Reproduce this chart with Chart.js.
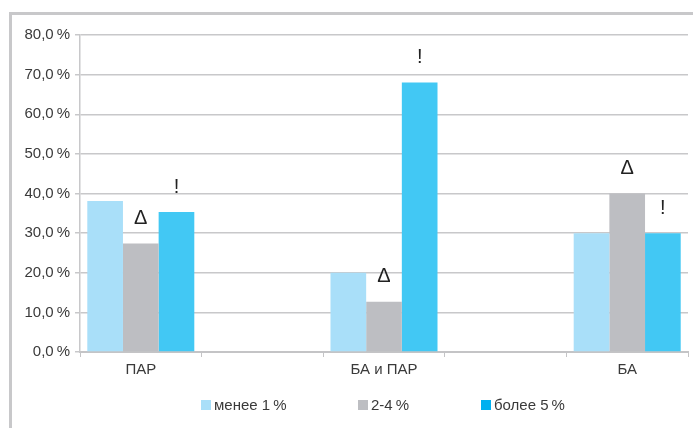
<!DOCTYPE html>
<html lang="ru">
<head>
<meta charset="UTF-8" />
<title>Доля групп</title>
<script src="https://cdn.jsdelivr.net/npm/chart.js"></script>
<style>
  html, body { margin: 0; padding: 0; background: #fff; overflow: hidden; }
  #wrap { position: relative; width: 693px; height: 428px; }
  #frame {
    position: absolute; left: 9px; top: 12px; width: 800px; height: 600px;
    border-top: 3px solid #c8c8ca; border-left: 3px solid #c8c8ca;
  }
  #chart { position: absolute; left: 0; top: 0; }
  #legend {
    position: absolute; top: 396px; left: 0; width: 693px;
    font-family: "Liberation Sans", Arial, sans-serif; font-size: 15px; color: #3a3a3a;
  }
  .item { position: absolute; white-space: nowrap; line-height: 18px; }
  .sw { display: inline-block; width: 10px; height: 10px; margin-right: 3px; }
</style>
</head>
<body>
<div id="wrap">
  <div id="frame"></div>
  <canvas id="chart" width="693" height="428"></canvas>
  <div id="legend"></div>
</div>

<script>
  // empty slots between groups keep the wide gaps
  const categories = ["ПАР", "", "БА и ПАР", "", "БА"];
  const seriesNames = ["менее 1\u2009%", "2-4\u2009%", "более 5\u2009%"];
  const lowValues = [38.1, null, 20.0, null, 30.0];
  const midValues = [27.4, null, 12.7, null, 40.0];
  const highValues = [35.3, null, 68.0, null, 30.0];
  const midMarks = ["Δ", null, "Δ", null, "Δ"];
  const highMarks = ["!", null, "!", null, "!"];
  const yTicks = [0, 10, 20, 30, 40, 50, 60, 70, 80];

  const barColors = ["#a9dff9", "#bdbec2", "#42c8f4"];
  const legendColors = ["#a9dff9", "#bdbec2", "#00b0f0"];
  const legendLeft = [201, 358, 481];

  // Δ and ! above the bars
  const markPlugin = {
    id: "marks",
    afterDatasetsDraw(chart) {
      const ctx = chart.ctx;
      const markSets = [null, midMarks, highMarks];
      ctx.save();
      ctx.font = "20px 'Liberation Sans', Arial, sans-serif";
      ctx.fillStyle = "#222";
      ctx.textAlign = "center";
      ctx.textBaseline = "middle";
      markSets.forEach((marks, di) => {
        if (!marks) return;
        chart.getDatasetMeta(di).data.forEach((bar, i) => {
          if (marks[i]) ctx.fillText(marks[i], bar.x, bar.y - 25);
        });
      });
      ctx.restore();
    }
  };

  const fmt = v => v.toFixed(1).replace(".", ",") + "\u2009%";

  new Chart(document.getElementById("chart"), {
    type: "bar",
    data: {
      labels: categories,
      datasets: [
        { label: seriesNames[0], data: lowValues, backgroundColor: barColors[0] },
        { label: seriesNames[1], data: midValues, backgroundColor: barColors[1] },
        { label: seriesNames[2], data: highValues, backgroundColor: barColors[2] }
      ]
    },
    options: {
      responsive: false,
      animation: false,
      categoryPercentage: 0.88,
      barPercentage: 1,
      layout: { padding: { top: 35, right: 5, bottom: 45, left: 0 } },
      plugins: {
        legend: { display: false },
        tooltip: { enabled: false }
      },
      scales: {
        x: {
          grid: { drawOnChartArea: false, drawTicks: true, tickLength: 5, color: "#c4c4c6", offset: true },
          border: { color: "#c4c4c6", width: 2 },
          ticks: {
            padding: 4, color: "#3a3a3a",
            font: { family: "'Liberation Sans', Arial, sans-serif", size: 15 }
          }
        },
        y: {
          min: 0, max: 80,
          afterBuildTicks: s => { s.ticks = yTicks.map(v => ({ value: v })); },
          afterFit: s => { s.width = 80; },
          grid: { color: "#c8c8ca", lineWidth: 1.5, tickLength: 5 },
          border: { color: "#c8c8ca", width: 1.5 },
          ticks: {
            padding: 5, color: "#3a3a3a",
            font: { family: "'Liberation Sans', Arial, sans-serif", size: 15 },
            callback: v => fmt(v)
          }
        }
      }
    },
    plugins: [markPlugin]
  });

  // legend row
  const legend = document.getElementById("legend");
  seriesNames.forEach((name, i) => {
    const item = document.createElement("div");
    item.className = "item";
    item.style.left = legendLeft[i] + "px";
    item.innerHTML = '<span class="sw" style="background:' + legendColors[i] + '"></span>' + name;
    legend.appendChild(item);
  });
</script>
</body>
</html>
